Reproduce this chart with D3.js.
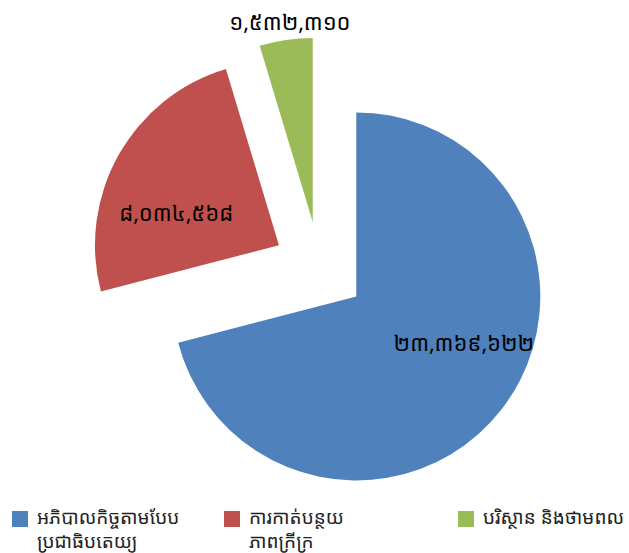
<!DOCTYPE html>
<html>
<head>
<meta charset="utf-8">
<script src="https://cdn.jsdelivr.net/npm/d3@7"></script>
<style>
  body { margin: 0; background: #fff; }
  svg { display: block; font-family: "Noto Sans Khmer", "Khmer OS", "Khmer OS System", "DejaVu Sans", sans-serif; }
</style>
</head>
<body>
<div id="chart"></div>
<script>
// Budget split by programme area (Khmer labels, Khmer digits).
const categories = [
  ['អភិបាលកិច្ចតាមបែប', 'ប្រជាធិបតេយ្យ'],
  ['ការកាត់បន្ថយ', 'ភាពក្រីក្រ'],
  ['បរិស្ថាន និងថាមពល']
];
const values = [23369622, 8034568, 1532310];
const colors = ['#4f81bd', '#c0504d', '#9bbb59'];

// Convert western digits to Khmer digits.
const khmerDigits = '០១២៣៤៥៦៧៨៩';
const toKhmer = s => s.replace(/[0-9]/g, c => khmerDigits[+c]);
const fmt = d3.format(',');

(function(){
  const width = 629, height = 553;
  const svg = d3.select('#chart').append('svg')
    .attr('width', width).attr('height', height);

  const cx = 319.5, cy = 268, radius = 184, explode = 46.5;
  // Label placement tweak per slice: angle shift (deg) and radius factor.
  const labelTweak = [[-14.7, 0.635], [-11.4, 0.587], [1.9, 1.10]];

  const pie = d3.pie().sort(null).value(d => d);
  const arcs = pie(values);
  const arc = d3.arc().innerRadius(0).outerRadius(radius);

  const g = svg.append('g').attr('transform', `translate(${cx},${cy})`);

  const slices = g.selectAll('g.slice')
    .data(arcs)
    .join('g')
    .attr('class', 'slice')
    .attr('transform', d => {
      const mid = (d.startAngle + d.endAngle) / 2;
      return `translate(${Math.sin(mid) * explode},${-Math.cos(mid) * explode})`;
    });

  slices.append('path')
    .attr('d', arc)
    .attr('fill', (d, i) => colors[i]);

  slices.append('text')
    .attr('text-anchor', 'middle')
    .attr('dominant-baseline', 'central')
    .attr('font-size', 22)
    .attr('fill', '#000')
    .attr('x', (d, i) => {
      const mid = (d.startAngle + d.endAngle) / 2 + labelTweak[i][0] * Math.PI / 180;
      return Math.sin(mid) * radius * labelTweak[i][1];
    })
    .attr('y', (d, i) => {
      const mid = (d.startAngle + d.endAngle) / 2 + labelTweak[i][0] * Math.PI / 180;
      return -Math.cos(mid) * radius * labelTweak[i][1];
    })
    .text(d => toKhmer(fmt(d.value)));

  // Legend along the bottom.
  const legendX = [12, 224, 458];
  const legend = svg.append('g').attr('class', 'legend');
  const items = legend.selectAll('g')
    .data(categories)
    .join('g')
    .attr('transform', (d, i) => `translate(${legendX[i]},511)`);

  items.append('rect')
    .attr('width', 16).attr('height', 16)
    .attr('fill', (d, i) => colors[i]);

  items.append('text')
    .attr('x', 25)
    .attr('font-size', 19)
    .attr('fill', '#222')
    .selectAll('tspan')
    .data(d => d)
    .join('tspan')
    .attr('x', 25)
    .attr('y', (d, i) => 13 + i * 24)
    .text(d => d);
})();
</script>
</body>
</html>
